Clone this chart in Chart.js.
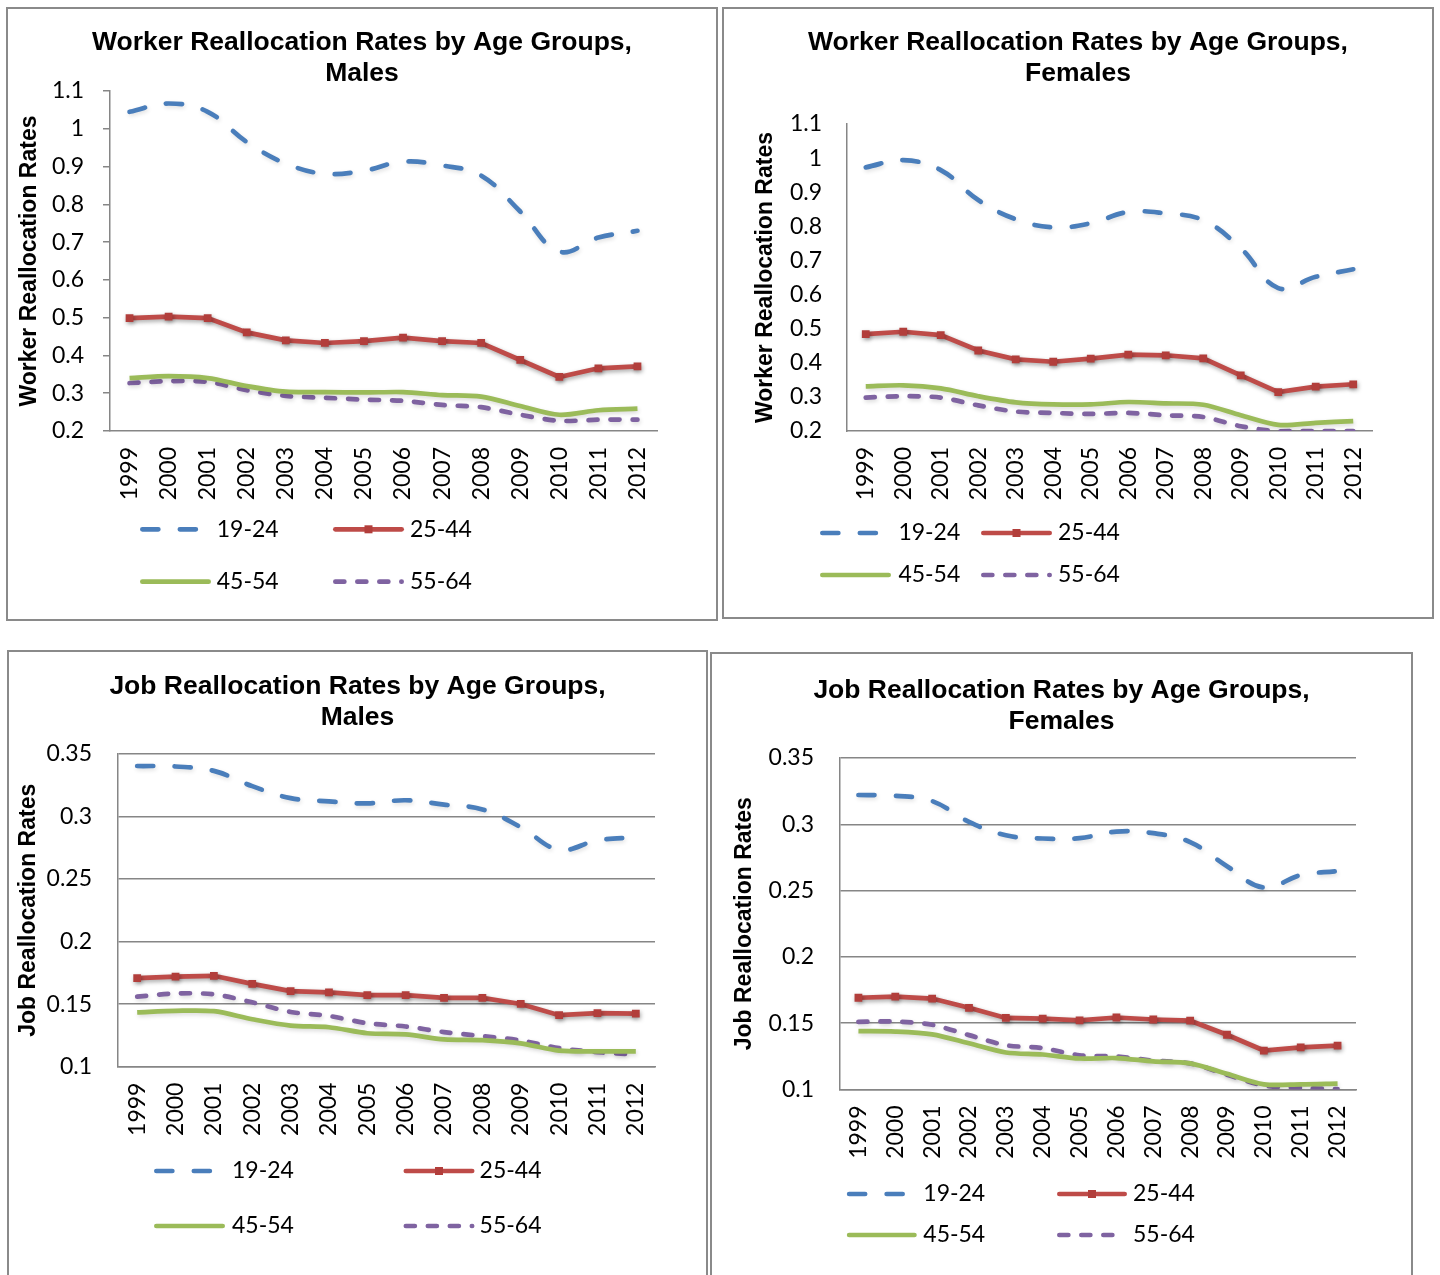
<!DOCTYPE html>
<html><head><meta charset="utf-8">
<script src="https://cdn.jsdelivr.net/npm/chart.js@4.4.1/dist/chart.umd.min.js"></script>
<style>
html,body{margin:0;padding:0;background:#fff;}
body{width:1440px;height:1275px;position:relative;overflow:hidden;}
.panel{position:absolute;box-sizing:border-box;border:2px solid #8a8a8a;}
canvas{position:absolute;}
</style></head><body>
<div class="panel" style="left:6px;top:7px;width:712px;height:614px"></div>
<div class="panel" style="left:722px;top:7px;width:712px;height:612px"></div>
<div class="panel" style="left:7px;top:650px;width:701px;height:700px"></div>
<div class="panel" style="left:710px;top:652px;width:703px;height:700px"></div>
<canvas id="c1" width="712" height="614" style="left:6px;top:7px"></canvas>
<canvas id="c2" width="712" height="612" style="left:722px;top:7px"></canvas>
<canvas id="c3" width="701" height="625" style="left:7px;top:650px"></canvas>
<canvas id="c4" width="703" height="623" style="left:710px;top:652px"></canvas>
<script>
// ---------- data ----------
const years = ['1999','2000','2001','2002','2003','2004','2005','2006','2007','2008','2009','2010','2011','2012'];
const seriesLabels = ['19-24','25-44','45-54','55-64'];

const workerMale_19_24 = [1.045,1.067,1.045,0.965,0.908,0.881,0.889,0.913,0.903,0.876,0.781,0.675,0.712,0.730];
const workerMale_25_44 = [0.499,0.503,0.499,0.461,0.440,0.433,0.438,0.447,0.438,0.433,0.388,0.343,0.366,0.371];
const workerMale_45_54 = [0.340,0.345,0.340,0.319,0.304,0.303,0.302,0.303,0.295,0.291,0.266,0.243,0.255,0.259];
const workerMale_55_64 = [0.327,0.332,0.330,0.308,0.293,0.288,0.283,0.280,0.269,0.263,0.243,0.227,0.230,0.230];

const workerFemale_19_24 = [0.973,0.994,0.965,0.877,0.821,0.797,0.809,0.842,0.838,0.818,0.736,0.619,0.652,0.674];
const workerFemale_25_44 = [0.484,0.491,0.481,0.436,0.410,0.403,0.412,0.424,0.422,0.413,0.363,0.314,0.330,0.337];
const workerFemale_45_54 = [0.331,0.334,0.325,0.302,0.284,0.278,0.278,0.285,0.281,0.277,0.246,0.218,0.224,0.229];
const workerFemale_55_64 = [0.298,0.302,0.298,0.275,0.257,0.253,0.250,0.253,0.246,0.241,0.214,0.199,0.200,0.200];

const jobMale_19_24 = [0.3404,0.3400,0.3365,0.3243,0.3147,0.3121,0.3105,0.3130,0.3095,0.3057,0.2915,0.2735,0.2809,0.2835];
const jobMale_25_44 = [0.1707,0.1720,0.1726,0.1662,0.1604,0.1594,0.1572,0.1572,0.1549,0.1549,0.1501,0.1411,0.1427,0.1424];
const jobMale_45_54 = [0.1434,0.1446,0.1443,0.1379,0.1328,0.1315,0.1267,0.1257,0.1218,0.1212,0.1186,0.1128,0.1122,0.1122];
const jobMale_55_64 = [0.1559,0.1585,0.1578,0.1514,0.1437,0.1405,0.1347,0.1321,0.1276,0.1244,0.1209,0.1148,0.1116,0.1096];

const jobFemale_19_24 = [0.3221,0.3215,0.3175,0.3018,0.2917,0.2893,0.2896,0.2945,0.2933,0.2866,0.2684,0.2523,0.2617,0.2647];
const jobFemale_25_44 = [0.1692,0.1701,0.1686,0.1616,0.1540,0.1534,0.1522,0.1543,0.1528,0.1519,0.1413,0.1294,0.1318,0.1331];
const jobFemale_45_54 = [0.1440,0.1437,0.1416,0.1349,0.1279,0.1264,0.1234,0.1237,0.1212,0.1197,0.1118,0.1039,0.1039,0.1045];
const jobFemale_55_64 = [0.1510,0.1513,0.1488,0.1410,0.1334,0.1312,0.1258,0.1249,0.1218,0.1197,0.1112,0.1030,0.1012,0.1003];

const workerTicks = {min:0.2, max:1.1, step:0.1};
const jobTicks = {min:0.1, max:0.35, step:0.05};

// ---------- styling ----------
const AXIS = '#868686';
const TICKFONT = {family:'Lato, "Open Sans", sans-serif', size:23};
const TITLEFAMILY = '"Liberation Sans", Arial, sans-serif';

function makeDatasets(a,b,c,d){
  return [
    {label:seriesLabels[0], data:a, borderColor:'#4a7ebb', borderWidth:4.7, borderDash:[16,21.5], borderCapStyle:'round',
     tension:0.4, pointRadius:0, fill:false, shadowColor:'rgba(0,0,0,0.12)'},
    {label:seriesLabels[1], data:b, borderColor:'#be4b48', borderWidth:4.7, tension:0, pointStyle:'rect', pointRadius:5.5,
     pointBackgroundColor:'#b23e3b', pointBorderWidth:0, fill:false, shadowColor:'rgba(0,0,0,0.35)', marker:true},
    {label:seriesLabels[2], data:c, borderColor:'#9bbb59', borderWidth:4.7, tension:0.3, pointRadius:0, fill:false,
     shadowColor:'rgba(0,0,0,0.15)'},
    {label:seriesLabels[3], data:d, borderColor:'#7f63a1', borderWidth:4.7, borderDash:[9,13], borderCapStyle:'round',
     tension:0.3, pointRadius:0, fill:false, shadowColor:'rgba(0,0,0,0.15)'}
  ];
}

const shadowPlugin = {
  id:'shadowPlugin',
  beforeDatasetDraw(chart, args){
    const ctx = chart.ctx; ctx.save();
    const ds = chart.data.datasets[args.index];
    ctx.shadowColor = ds.shadowColor || 'rgba(0,0,0,0)';
    ctx.shadowBlur = 4; ctx.shadowOffsetX = 1; ctx.shadowOffsetY = 2;
  },
  afterDatasetDraw(chart){ chart.ctx.restore(); }
};

// centre the chart title over the whole panel (layout padding is one-sided)
const titleCenterPlugin = {
  id:'titleCenter',
  afterLayout(chart){
    const t = chart.titleBlock;
    if (t){ t.left = 0; t.right = chart.width; t.width = chart.width; }
  }
};

const legendPlugin = {
  id:'gridLegend',
  afterDraw(chart, args, o){
    const ctx = chart.ctx;
    chart.data.datasets.forEach((ds,i)=>{
      const x = (i%2===0) ? o.col1 : o.col2;
      const tx = (i%2===0) ? o.text1 : o.text2;
      const y = (i<2) ? o.row1 : o.row2;
      const w = ds.borderWidth;
      ctx.save();
      ctx.strokeStyle = ds.borderColor; ctx.lineWidth = w; ctx.lineCap = 'round';
      ctx.setLineDash(ds.borderDash || []);
      ctx.beginPath(); ctx.moveTo(x + w/2, y); ctx.lineTo(x + o.len - w/2, y); ctx.stroke();
      ctx.setLineDash([]);
      if (ds.marker){
        ctx.fillStyle = ds.pointBackgroundColor;
        ctx.fillRect(x + o.len/2 - 4, y - 4, 8, 8);
      }
      ctx.fillStyle = '#000';
      ctx.font = TICKFONT.size + 'px ' + TICKFONT.family;
      ctx.textBaseline = 'middle'; ctx.textAlign = 'left';
      ctx.fillText(ds.label, tx, y);
      ctx.restore();
    });
  }
};

function makeChart(id, cfg){
  const gridOnArea = cfg.gridlines;
  return new Chart(document.getElementById(id), {
    type:'line',
    data:{labels:years, datasets:makeDatasets(...cfg.series)},
    plugins:[shadowPlugin, titleCenterPlugin, legendPlugin],
    options:{
      responsive:false, animation:false, devicePixelRatio:1,
      layout:{padding:{left:0, right:cfg.right, top:0, bottom:0}},
      plugins:{
        legend:{display:false}, tooltip:{enabled:false},
        title:{display:true, text:cfg.title, color:'#000',
               font:{family:TITLEFAMILY, size:26.5, weight:'bold', lineHeight:1.17},
               padding:{top:cfg.titleTop, bottom:cfg.titleBottom}},
        gridLegend:cfg.legend
      },
      scales:{
        x:{
          type:'category', offset:true,
          grid:{display:false, drawTicks:false},
          border:{display:true, color:AXIS, width:1.5},
          ticks:{autoSkip:false, maxRotation:90, minRotation:90, padding:cfg.xPad, color:'#000', font:TICKFONT},
          afterFit(s){ s.height = cfg.xHeight; }
        },
        y:{
          min:cfg.ticks.min, max:cfg.ticks.max,
          grid: gridOnArea ? {display:true, drawOnChartArea:true, drawTicks:false, color:AXIS, lineWidth:1.5}
                : (cfg.tickMarks ? {display:true, drawOnChartArea:false, drawTicks:true, tickLength:7, color:AXIS, lineWidth:1.5}
                                 : {display:false, drawTicks:false}),
          border:{display:true, color:AXIS, width:1.5},
          ticks:{stepSize:cfg.ticks.step, padding:cfg.yPad, color:'#000', font:TICKFONT,
                 callback:v=>String(Math.round(v*100)/100)},
          title:{display:true, text:cfg.yTitle, color:'#000',
                 font:{family:TITLEFAMILY, size:23, weight:'bold', lineHeight:1.2},
                 padding:{top:cfg.yTitlePad, bottom:0}},
          afterFit(s){ s.width = cfg.yWidth; }
        }
      }
    }
  });
}

function drawAll(){
  makeChart('c1', {
    series:[workerMale_19_24, workerMale_25_44, workerMale_45_54, workerMale_55_64],
    title:['Worker Reallocation Rates by Age Groups,','Males'], yTitle:'Worker Reallocation Rates',
    ticks:workerTicks, gridlines:false, tickMarks:true,
    right:61, yWidth:104, xHeight:190, titleTop:20.5, titleBottom:1.5, yTitlePad:9.4, yPad:19, xPad:16,
    legend:{col1:134, text1:210.7, col2:327, text2:404, row1:522.3, row2:574.7, len:71}
  });
  makeChart('c2', {
    series:[workerFemale_19_24, workerFemale_25_44, workerFemale_45_54, workerFemale_55_64],
    title:['Worker Reallocation Rates by Age Groups,','Females'], yTitle:'Worker Reallocation Rates',
    ticks:workerTicks, gridlines:false, tickMarks:false,
    right:62, yWidth:125, xHeight:188, titleTop:20.5, titleBottom:34.5, yTitlePad:30.2, yPad:25, xPad:16,
    legend:{col1:98, text1:176.4, col2:259, text2:336, row1:526, row2:568, len:71}
  });
  makeChart('c3', {
    series:[jobMale_19_24, jobMale_25_44, jobMale_45_54, jobMale_55_64],
    title:['Job Reallocation Rates by Age Groups,','Males'], yTitle:'Job Reallocation Rates',
    ticks:jobTicks, gridlines:true, tickMarks:false,
    right:53, yWidth:111, xHeight:208.4, titleTop:20.9, titleBottom:21.1, yTitlePad:8, yPad:26, xPad:16,
    legend:{col1:147, text1:225, col2:396.5, text2:472.6, row1:521, row2:576, len:71}
  });
  makeChart('c4', {
    series:[jobFemale_19_24, jobFemale_25_44, jobFemale_45_54, jobFemale_55_64],
    title:['Job Reallocation Rates by Age Groups,','Females'], yTitle:'Job Reallocation Rates',
    ticks:jobTicks, gridlines:true, tickMarks:false,
    right:57, yWidth:130, xHeight:185.5, titleTop:23, titleBottom:21, yTitlePad:21.2, yPad:26, xPad:16,
    legend:{col1:136.8, text1:213.3, col2:347, text2:423, row1:542, row2:583, len:70}
  });
}

let started = false;
function start(){ if (started) return; started = true; drawAll(); }
if (document.fonts && document.fonts.load) {
  Promise.all([
    document.fonts.load('23px Lato'),
    document.fonts.load('bold 26px "Liberation Sans"')
  ]).then(start, start);
  setTimeout(start, 1500);
} else { start(); }
</script>
</body></html>
